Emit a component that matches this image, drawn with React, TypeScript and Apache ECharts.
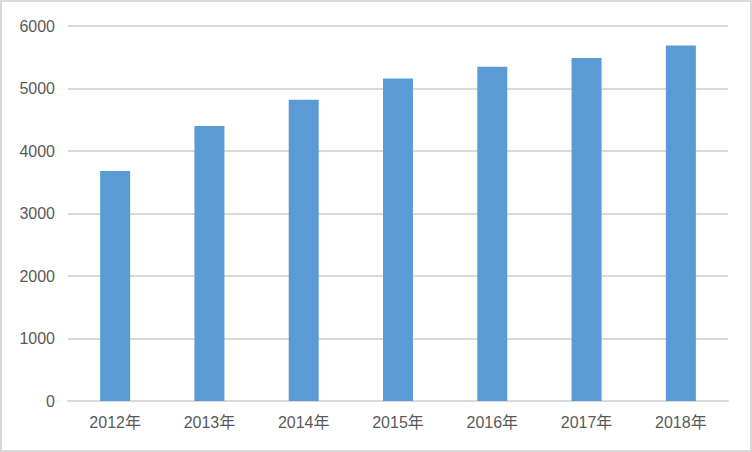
import * as echarts from 'echarts';
import React, { useEffect, useRef } from 'react';

const categories = ['2012年', '2013年', '2014年', '2015年', '2016年', '2017年', '2018年'];
const values = [3680, 4400, 4820, 5160, 5350, 5490, 5690];

const App: React.FC = () => {
  const chartRef = useRef<HTMLDivElement>(null);

  useEffect(() => {
    document.body.style.margin = '0';
    const myChart = echarts.init(chartRef.current!, undefined, { renderer: 'svg' });

    const option = {
      animation: false,
      backgroundColor: '#ffffff',
      grid: {
        left: 66,
        right: 22,
        top: 24,
        bottom: 49,
      },
      xAxis: {
        type: 'category',
        data: categories,
        axisLine: { lineStyle: { color: '#d9d9d9', width: 2 } },
        axisTick: { show: false },
        axisLabel: {
          color: '#595959',
          fontSize: 16,
          fontFamily: 'Liberation Sans, Noto Sans CJK SC, sans-serif',
          margin: 13,
        },
      },
      yAxis: {
        type: 'value',
        min: 0,
        max: 6000,
        interval: 1000,
        axisLine: { show: false },
        axisTick: { show: false },
        splitLine: { lineStyle: { color: '#d9d9d9', width: 2 } },
        axisLabel: {
          color: '#595959',
          fontSize: 16,
          fontFamily: 'Liberation Sans, sans-serif',
          margin: 13,
          formatter: (v: number) => String(v),
        },
      },
      series: [
        {
          type: 'bar',
          data: values,
          barWidth: 30,
          itemStyle: { color: '#5b9bd5' },
        },
      ],
    };

    myChart.setOption(option);

    return () => {
      myChart.dispose();
    };
  }, []);

  return (
    <div
      ref={chartRef}
      style={{
        width: '752px',
        height: '452px',
        boxSizing: 'border-box',
        border: '2px solid #d9d9d9',
      }}
    />
  );
};

export default App;
